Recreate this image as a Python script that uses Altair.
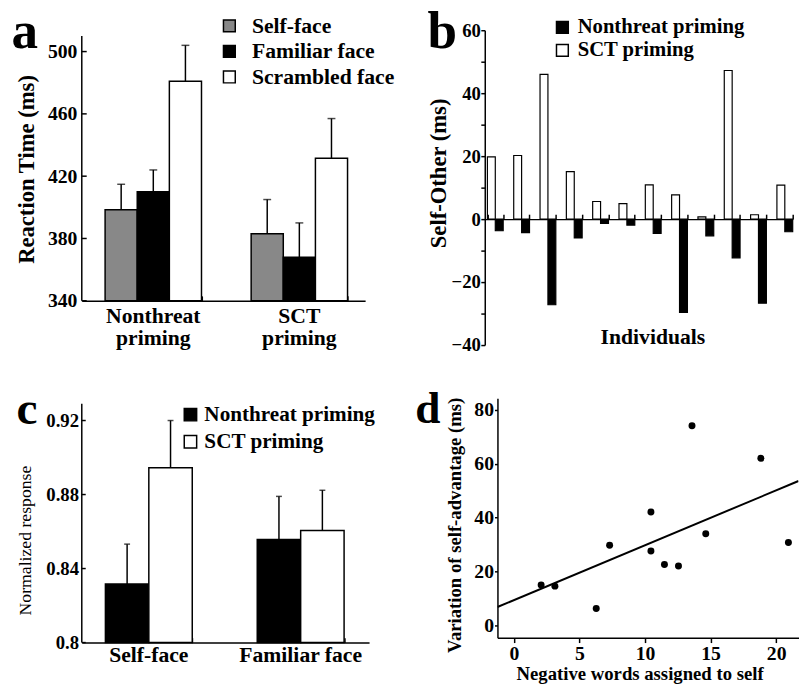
import altair as alt
import pandas as pd

FONT = "Liberation Serif"

# ---------------- data ----------------
# Panel a: reaction time (ms)
a_priming = ["Nonthreat priming", "SCT priming"]
a_faces = ["Self-face", "Familiar face", "Scrambled face"]
a_rt_nonthreat = [398.5, 410.0, 481.0]
a_se_nonthreat = [16.3, 14.0, 23.0]
a_rt_sct = [383.0, 368.0, 431.5]
a_se_sct = [22.0, 22.0, 25.5]
a_yticks = [340, 380, 420, 460, 500]

# Panel b: Self-Other (ms) per individual
b_individuals = list(range(1, 13))
b_conds = ["Nonthreat priming", "SCT priming"]
b_nonthreat = [-3.7, -4.3, -27.2, -6.0, -1.4, -1.9, -4.5, -29.6, -5.3, -12.3, -26.7, -4.0]
b_sct = [19.8, 20.2, 46.0, 15.1, 5.6, 4.9, 10.9, 7.7, 0.7, 47.2, 1.4, 10.8]
b_yticks = [-40, -30, -20, -10, 0, 10, 20, 30, 40, 50, 60]

# Panel c: normalized response
c_faces = ["Self-face", "Familiar face"]
c_conds = ["Nonthreat priming", "SCT priming"]
c_nonthreat = [0.8316, 0.8557]
c_nonthreat_se = [0.0216, 0.0233]
c_sct = [0.8945, 0.8606]
c_sct_se = [0.0255, 0.0217]
c_yticks = [0.80, 0.84, 0.88, 0.92]

# Panel d: scatter with regression
d_neg_words = [2.08, 3.13, 6.28, 7.30, 10.45, 10.45, 11.48, 12.55, 13.58, 14.63, 18.83, 20.93]
d_variation = [15.0, 14.6, 6.3, 29.8, 42.1, 27.6, 22.6, 22.1, 74.1, 34.0, 62.0, 30.8]
d_xticks = [0, 5, 10, 15, 20]
d_yticks = [0, 20, 40, 60, 80]

# ---------------- tables ----------------
df_a = pd.DataFrame({
    "priming": [a_priming[0]] * 3 + [a_priming[1]] * 3,
    "face": a_faces * 2,
    "rt": a_rt_nonthreat + a_rt_sct,
    "se": a_se_nonthreat + a_se_sct,
})
df_a["top"] = df_a["rt"] + df_a["se"]

df_b = pd.DataFrame({
    "individual": b_individuals * 2,
    "cond": [b_conds[0]] * 12 + [b_conds[1]] * 12,
    "diff": b_nonthreat + b_sct,
})

df_c = pd.DataFrame({
    "face": c_faces * 2,
    "cond": [c_conds[0]] * 2 + [c_conds[1]] * 2,
    "resp": c_nonthreat + c_sct,
    "se": c_nonthreat_se + c_sct_se,
})
df_c["top"] = df_c["resp"] + df_c["se"]

df_d = pd.DataFrame({"neg": d_neg_words, "var": d_variation})
one = pd.DataFrame({"k": [0]})


def letter(ch, x, y, size):
    return alt.Chart(pd.DataFrame({"t": [ch]})).mark_text(
        font=FONT, fontSize=size, fontWeight="bold", align="left",
        baseline="alphabetic", color="black"
    ).encode(text="t:N", x=alt.value(x), y=alt.value(y))


def anchor(x, y, y2):
    return alt.Chart(one).mark_rule(strokeOpacity=0, strokeWidth=1).encode(
        x=alt.value(x), y=alt.value(y), y2=alt.value(y2))


def legend(x, y, size, row_pad, offset, fsize=22):
    return alt.Legend(title=None, orient="none", legendX=x, legendY=y,
                      symbolType="square", symbolSize=size, symbolStrokeColor="black",
                      symbolStrokeWidth=1.5, labelFontSize=fsize, labelFont=FONT,
                      labelFontWeight="bold", labelColor="black", rowPadding=row_pad,
                      labelOffset=offset, padding=0, labelLimit=400)


def inner_ticks_axis(height):
    return alt.Axis(orient="top", offset=-height, labels=False, domain=False, title=None,
                    tickBand="extent", tickSize=5)


# ---------------- panel a ----------------
A_W, A_H = 288, 275
A_MIN, A_TOP, A_AXIS_TOP = 340, 513.7, 510
xa_scale = alt.Scale(paddingInner=0.34, paddingOuter=0.14, align=0.57)
xa = alt.X("priming:N", sort=a_priming, scale=xa_scale,
           axis=alt.Axis(title=None, labelAngle=0, labelExpr="split(datum.label, ' ')",
                         labelFontSize=22, labelPadding=5, labelLineHeight=22,
                         ticks=False, tickSize=0))
xa_plain = alt.X("priming:N", sort=a_priming, scale=xa_scale, axis=None)
xa_ticks = alt.X("priming:N", sort=a_priming, scale=xa_scale, axis=inner_ticks_axis(A_H))
xoa = alt.XOffset("face:N", sort=a_faces, scale=alt.Scale(paddingInner=0, paddingOuter=0))
ya_scale = alt.Scale(domain=[A_MIN, A_TOP], nice=False, zero=False)
ya_axis = alt.Axis(values=a_yticks, domain=False, ticks=False, tickSize=0, labelPadding=5,
                   labelFontSize=20, title="Reaction Time (ms)", titleFontSize=23,
                   titleX=-56.5, titleY=141, titleAngle=270, titleAlign="center",
                   titleBaseline="middle")

bars_a = alt.Chart(df_a).mark_bar(stroke="black", strokeWidth=1.5).encode(
    x=xa, xOffset=xoa,
    y=alt.Y("rt:Q", scale=ya_scale, axis=ya_axis), y2=alt.datum(A_MIN),
    fill=alt.Fill("face:N", scale=alt.Scale(domain=a_faces, range=["#888888", "#000000", "#ffffff"]),
                  legend=legend(139, -15.5, 144, 4, 12)))
whisk_a = alt.Chart(df_a).mark_rule(color="black", strokeWidth=1.5).encode(
    x=xa_plain, xOffset=xoa, y=alt.Y("rt:Q", scale=ya_scale, axis=ya_axis), y2="top:Q")
cap_a = alt.Chart(df_a).mark_tick(color="black", thickness=1.5, size=8, orient="horizontal").encode(
    x=xa_plain, xOffset=xoa, y=alt.Y("top:Q", scale=ya_scale, axis=ya_axis))
xtick_a = alt.Chart(pd.DataFrame({"priming": a_priming})).mark_rule(strokeOpacity=0).encode(
    x=xa_ticks, y=alt.value(0), y2=alt.value(1))
axline_a = alt.Chart(pd.DataFrame({"lo": [A_MIN], "hi": [A_AXIS_TOP]})).mark_rule(
    color="black", strokeWidth=1.5).encode(
    x=alt.value(0), y=alt.Y("lo:Q", scale=ya_scale, axis=ya_axis), y2="hi:Q")
ticks_a = alt.Chart(pd.DataFrame({"v": a_yticks})).mark_rule(color="black", strokeWidth=1.5).encode(
    x=alt.value(0), x2=alt.value(5), y=alt.Y("v:Q", scale=ya_scale, axis=ya_axis))

panel_a = alt.layer(
    bars_a, whisk_a, cap_a, xtick_a, axline_a, ticks_a,
    letter("a", -71.5, 18.3, 54),
    anchor(-75, -25, 335),
).resolve_axis(x="independent").properties(width=A_W, height=A_H)

# ---------------- panel b ----------------
B_W, B_H = 313, 320
xb = alt.X("individual:O",
           scale=alt.Scale(paddingInner=0.4, paddingOuter=0.05, align=1),
           axis=alt.Axis(orient="top", offset=-192, labels=False, tickBand="extent", tickSize=5,
                         title="Individuals", titleFontSize=22, titleX=170.4, titleY=126.3,
                         titleBaseline="alphabetic", titleAlign="center", zindex=1))
xob = alt.XOffset("cond:N", sort=[b_conds[1], b_conds[0]],
                  scale=alt.Scale(paddingInner=0, paddingOuter=0))
yb = alt.Y("diff:Q", scale=alt.Scale(domain=[-40, 60], nice=False),
           axis=alt.Axis(values=b_yticks, labelExpr="datum.value % 20 == 0 ? datum.label : ''",
                         tickSize=4, labelPadding=0.5, labelFontSize=19,
                         title="Self-Other (ms)", titleFontSize=23, titleX=-47, titleY=145,
                         titleAngle=270, titleAlign="center", titleBaseline="middle"))
bars_b = alt.Chart(df_b).mark_bar(stroke="black", strokeWidth=1.2).encode(
    x=xb, xOffset=xob, y=yb,
    fill=alt.Fill("cond:N", scale=alt.Scale(domain=b_conds, range=["#000000", "#ffffff"]),
                  legend=legend(68.4, -13.5, 144, 1.5, 5, 21)))
panel_b = alt.layer(bars_b, letter("b", -58.1, 18.3, 54)).properties(width=B_W, height=B_H)

# ---------------- panel c ----------------
C_W, C_H = 292, 248.4
C_MIN, C_TOP, C_AXIS_TOP = 0.8, 0.93207, 0.929
xc_scale = alt.Scale(paddingInner=0.428, paddingOuter=0.16, align=0.486)
xc = alt.X("face:N", sort=c_faces, scale=xc_scale,
           axis=alt.Axis(title=None, labelAngle=0, labelFontSize=22, labelPadding=2.6,
                         ticks=False, tickSize=0))
xc_plain = alt.X("face:N", sort=c_faces, scale=xc_scale, axis=None)
xc_ticks = alt.X("face:N", sort=c_faces, scale=xc_scale, axis=inner_ticks_axis(C_H))
xoc = alt.XOffset("cond:N", sort=c_conds, scale=alt.Scale(paddingInner=0, paddingOuter=0))
yc_scale = alt.Scale(domain=[C_MIN, C_TOP], nice=False, zero=False)
yc_axis = alt.Axis(values=c_yticks, labelExpr="format(datum.value, '.2~f')", domain=False,
                   ticks=False, tickSize=0, labelPadding=3.3, labelFontSize=19,
                   title="Normalized response", titleFontSize=18, titleFontWeight="normal",
                   titleX=-57.5, titleY=144.2, titleAngle=270, titleAlign="center",
                   titleBaseline="middle")
bars_c = alt.Chart(df_c).mark_bar(stroke="black", strokeWidth=1.5).encode(
    x=xc, xOffset=xoc,
    y=alt.Y("resp:Q", scale=yc_scale, axis=yc_axis), y2=alt.datum(C_MIN),
    fill=alt.Fill("cond:N", scale=alt.Scale(domain=c_conds, range=["#000000", "#ffffff"]),
                  legend=legend(99.7, 6, 159, 4.5, 3.4, 21.5)))
whisk_c = alt.Chart(df_c).mark_rule(color="black", strokeWidth=1.5).encode(
    x=xc_plain, xOffset=xoc, y=alt.Y("resp:Q", scale=yc_scale, axis=yc_axis), y2="top:Q")
cap_c = alt.Chart(df_c).mark_tick(color="black", thickness=1.5, size=6, orient="horizontal").encode(
    x=xc_plain, xOffset=xoc, y=alt.Y("top:Q", scale=yc_scale, axis=yc_axis))
xtick_c = alt.Chart(pd.DataFrame({"face": c_faces})).mark_rule(strokeOpacity=0).encode(
    x=xc_ticks, y=alt.value(0), y2=alt.value(1))
axline_c = alt.Chart(pd.DataFrame({"lo": [C_MIN], "hi": [C_AXIS_TOP]})).mark_rule(
    color="black", strokeWidth=1.5).encode(
    x=alt.value(0), y=alt.Y("lo:Q", scale=yc_scale, axis=yc_axis), y2="hi:Q")
ticks_c = alt.Chart(pd.DataFrame({"v": c_yticks})).mark_rule(color="black", strokeWidth=1.5).encode(
    x=alt.value(0), x2=alt.value(4), y=alt.Y("v:Q", scale=yc_scale, axis=yc_axis))

panel_c = alt.layer(
    bars_c, whisk_c, cap_c, xtick_c, axline_c, ticks_c,
    letter("c", -66.4, 26.7, 48),
    anchor(-68, -18.3, 0),
).resolve_axis(x="independent").properties(width=C_W, height=C_H)

# ---------------- panel d ----------------
D_W, D_H = 306, 243.4
D_X = [-1.25, 21.7]
xd = alt.X("neg:Q", scale=alt.Scale(domain=D_X, nice=False, zero=False),
           axis=alt.Axis(values=d_xticks, tickSize=5, labelPadding=0.8, labelFontSize=20,
                         title="Negative words assigned to self", titleFontSize=19,
                         titleX=144.5, titleY=42.3, titleBaseline="alphabetic", titleAlign="center"))
yd = alt.Y("var:Q", scale=alt.Scale(domain=[-4.5, 84.3], nice=False, zero=False),
           axis=alt.Axis(values=d_yticks, tickSize=3, labelPadding=1, labelFontSize=20,
                         title="Variation of self-advantage (ms)", titleFontSize=19,
                         titleX=-43.5, titleY=128.7, titleAngle=270, titleAlign="center",
                         titleBaseline="middle"))
pts_d = alt.Chart(df_d).mark_circle(size=50, color="black", opacity=1).encode(x=xd, y=yd)
line_d = alt.Chart(df_d).transform_regression("neg", "var", extent=D_X).mark_line(
    color="black", strokeWidth=2, clip=True).encode(x=xd, y=yd)
panel_d = alt.layer(line_d, pts_d, letter("d", -83.5, 25, 46)).properties(width=D_W, height=D_H)

# ---------------- layout ----------------
row1 = alt.hconcat(panel_a, panel_b, spacing=121.6, bounds="flush").resolve_scale(
    fill="independent", xOffset="independent")
row2 = alt.hconcat(panel_c, panel_d, spacing=130.5, bounds="flush").resolve_scale(
    fill="independent", xOffset="independent")

chart = alt.vconcat(row1, row2, spacing=20).resolve_scale(
    fill="independent", xOffset="independent"
).properties(
    padding={"left": 0, "top": -8, "right": 0, "bottom": 0}
).configure_view(stroke=None).configure_axis(
    labelFont=FONT, titleFont=FONT, labelFontWeight="bold", titleFontWeight="bold",
    labelColor="black", titleColor="black", domainColor="black", tickColor="black",
    domainWidth=1.5, tickWidth=1.5, grid=False, labelFlush=False, labelOverlap=False,
)

chart.save("out.html", embed_options={"renderer": "svg", "actions": False})
